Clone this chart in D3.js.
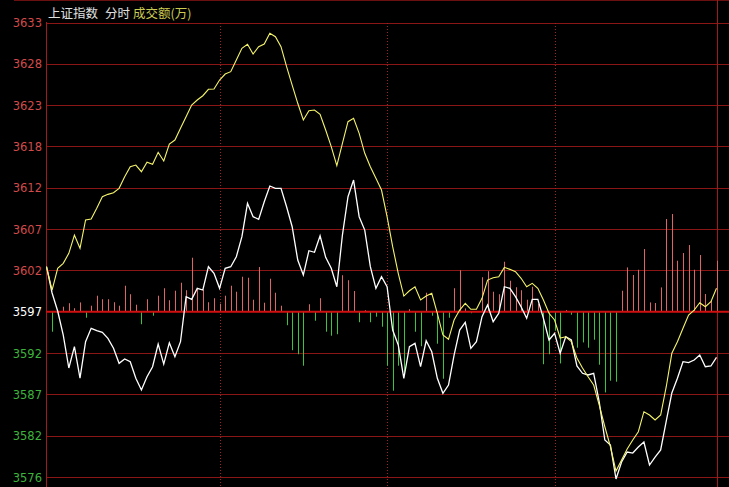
<!DOCTYPE html>
<html><head><meta charset="utf-8">
<script src="https://cdn.jsdelivr.net/npm/d3@7/dist/d3.min.js"></script>
<style>html,body{margin:0;padding:0;background:#000;}svg{display:block;}</style>
</head><body>
<svg id="c" width="729" height="487"></svg>
<script>
// ---- data ----
const tickValues = [3633.48, 3628.34, 3623.20, 3618.06, 3612.92, 3607.78, 3602.64, 3597.50, 3592.36, 3587.22, 3582.08, 3576.94];
const tickLabels = ["3633","3628","3623","3618","3612","3607","3602","3597","3592","3587","3582","3576"];
const baseValue = 3597.50;
const dividerIdx = [31, 61, 91];
const whiteLine = [3603.10,3599.83,3597.59,3594.60,3590.50,3593.15,3589.25,3593.77,3595.44,3595.14,
3594.94,3594.19,3592.95,3591.08,3591.62,3591.28,3589.22,3587.76,3589.41,3590.66,
3593.48,3590.99,3593.64,3591.90,3593.77,3599.37,3599.04,3600.41,3600.20,3603.10,
3602.28,3600.41,3602.90,3603.10,3604.34,3606.83,3610.99,3609.32,3608.99,3611.18,
3613.14,3612.85,3612.85,3610.56,3608.07,3603.93,3602.07,3605.09,3604.89,3606.95,
3604.27,3602.90,3600.61,3607.04,3611.81,3613.88,3609.32,3607.66,3603.10,3600.41,
3601.85,3600.61,3595.22,3593.36,3589.22,3593.15,3593.57,3590.66,3593.89,3592.52,
3589.22,3587.35,3588.38,3592.11,3595.22,3596.18,3592.95,3593.77,3596.88,3598.33,
3596.26,3597.30,3600.61,3600.41,3599.37,3598.12,3596.68,3599.04,3599.04,3596.68,
3593.98,3594.81,3592.33,3594.39,3593.98,3590.75,3589.84,3589.63,3589.84,3586.27,
3581.54,3580.92,3576.69,3578.80,3580.05,3579.92,3580.67,3581.29,3578.43,3579.42,
3580.30,3583.90,3587.39,3589.22,3591.28,3591.16,3591.49,3592.11,3590.66,3590.75,3591.83];
const yellowLine = [3603.10,3600.20,3602.90,3603.52,3604.77,3607.04,3605.39,3608.91,3609.03,3610.36,
3611.81,3612.10,3612.30,3612.85,3614.29,3615.54,3615.75,3614.92,3616.09,3615.84,
3617.33,3616.25,3618.36,3618.86,3620.32,3621.76,3623.21,3623.84,3624.37,3625.17,
3625.20,3626.32,3627.07,3627.36,3628.81,3630.27,3630.77,3629.56,3630.47,3630.80,
3632.13,3631.71,3630.47,3627.98,3625.70,3623.43,3621.35,3622.50,3622.59,3622.06,
3620.10,3618.03,3615.66,3618.45,3621.14,3621.56,3619.69,3617.21,3615.54,3614.10,
3612.64,3609.32,3605.59,3602.28,3599.45,3600.11,3600.61,3598.96,3599.45,3599.79,
3597.30,3594.60,3594.07,3596.47,3597.71,3598.55,3597.80,3597.80,3599.17,3601.44,
3601.73,3601.85,3603.02,3602.77,3602.48,3601.66,3600.61,3601.03,3600.41,3598.96,
3597.30,3596.47,3594.23,3594.39,3593.77,3591.74,3590.50,3589.41,3588.38,3585.89,
3583.19,3580.71,3577.68,3579.05,3580.42,3581.54,3582.57,3585.06,3584.65,3584.03,
3584.65,3588.17,3592.33,3593.77,3595.44,3597.09,3597.71,3598.62,3598.12,3598.74,3600.41];
// strength bars: + red (up), - green (down)
const bars = [0,-20,0,5,8.5,3.5,9.3,-6,6,16,
12.5,12.5,9.5,6,26,17.5,7,-12.5,12.5,-4,
16,23.5,11.5,21,29,21.5,54,23.5,22,9.5,
13.5,8,16,26,20,35,34,12,44.7,9,
33,19,6,-13.5,-38.5,-42.5,-54,7.5,-9,13.5,
-20,-24,-22.5,36.5,31.5,20.7,-10.5,1.5,-10.5,-5,
-15,-54,-79,-54,-63.5,2.5,-20,-34.5,19,-4,
-32,-67,-6,23.5,41.5,3.3,-1.5,0,34.5,40.5,
20,17.5,50,31,24.5,21.5,12,25,8,-52.5,
-42.5,-19,-51.7,1.7,-3,-36,-30.7,-36,-28,-53,
-80.7,-69,-70,21,44.3,36.7,42,62.7,9.3,8.7,
24.3,92.7,97.7,51,58.7,66.7,42,56.7,17.7,11,51];

// ---- drawing ----
const W = 729, H = 487;
const svg = d3.select("#c");
svg.append("rect").attr("width", W).attr("height", H).attr("fill", "#000");

const x = d3.scaleLinear().domain([0, 120]).range([46.5, 716.5]);
const y = d3.scaleLinear().domain([3576.94, 3633.48]).range([477, 22.5]);
const y0 = y(baseValue);
const barScale = d3.scaleLinear().domain([-100, 100]).range([y0 + 100, y0 - 100]);

const gridColor = "#8a1616";
// top frame line
svg.append("line").attr("x1", 14).attr("x2", W).attr("y1", 0.5).attr("y2", 0.5)
  .attr("stroke", "#6a1010").attr("stroke-width", 1);

// horizontal grid
svg.append("g").selectAll("line").data(tickValues.filter(v => v !== baseValue)).join("line")
  .attr("x1", 46.5).attr("x2", W)
  .attr("y1", d => Math.round(y(d)) + 0.5).attr("y2", d => Math.round(y(d)) + 0.5)
  .attr("stroke", gridColor).attr("stroke-width", 1);

// vertical dotted dividers
svg.append("g").selectAll("line").data(dividerIdx).join("line")
  .attr("x1", d => Math.round(x(d)) + 0.5).attr("x2", d => Math.round(x(d)) + 0.5)
  .attr("y1", 23).attr("y2", H)
  .attr("stroke", "#a02424").attr("stroke-width", 1).attr("stroke-dasharray", "1,2");

// left frame
svg.append("line").attr("x1", 46.5).attr("x2", 46.5).attr("y1", 22).attr("y2", H)
  .attr("stroke", "#a01c1c").attr("stroke-width", 1);
// right cursor line
svg.append("line").attr("x1", Math.round(x(120)) + 0.5).attr("x2", Math.round(x(120)) + 0.5)
  .attr("y1", 0).attr("y2", H).attr("stroke", "#a01c1c").attr("stroke-width", 1);

// bars
svg.append("g").selectAll("line").data(bars.map((v, i) => ({v, i})).filter(d => d.v !== 0)).join("line")
  .attr("x1", d => Math.round(x(d.i)) + 0.5).attr("x2", d => Math.round(x(d.i)) + 0.5)
  .attr("y1", y0).attr("y2", d => barScale(d.v))
  .attr("stroke", d => d.v > 0 ? "#e06464" : "#3cc43c").attr("stroke-width", 1);

// center line
svg.append("line").attr("x1", 46.5).attr("x2", W).attr("y1", y0).attr("y2", y0)
  .attr("stroke", "#d01010").attr("stroke-width", 2.2);

// price lines
const line = d3.line().x((d, i) => x(i)).y(d => y(d));
svg.append("path").datum(whiteLine).attr("d", line).attr("fill", "none")
  .attr("stroke", "#ffffff").attr("stroke-width", 1.3);
svg.append("path").datum(yellowLine).attr("d", line).attr("fill", "none")
  .attr("stroke", "#f4f46a").attr("stroke-width", 1.1);

// y labels
svg.append("g").selectAll("text").data(tickValues).join("text")
  .attr("x", 42).attr("y", d => y(d) + 4.5)
  .attr("text-anchor", "end")
  .attr("font-family", "DejaVu Sans, sans-serif").attr("font-size", 11.5)
  .attr("fill", d => d > baseValue ? "#d24a4a" : (d < baseValue ? "#3cb43c" : "#ffffff"))
  .text((d, i) => tickLabels[i]);

// title
const title = svg.append("text").attr("y", 17.5).attr("font-family", "Noto Sans CJK SC, sans-serif").attr("font-size", 12.5);
title.append("tspan").attr("x", 48).attr("fill", "#e0e0e0").text("上证指数");
title.append("tspan").attr("x", 105).attr("fill", "#e0e0e0").text("分时");
title.append("tspan").attr("x", 133).attr("fill", "#cccc50").text("成交额(万)");
</script>
</body></html>
